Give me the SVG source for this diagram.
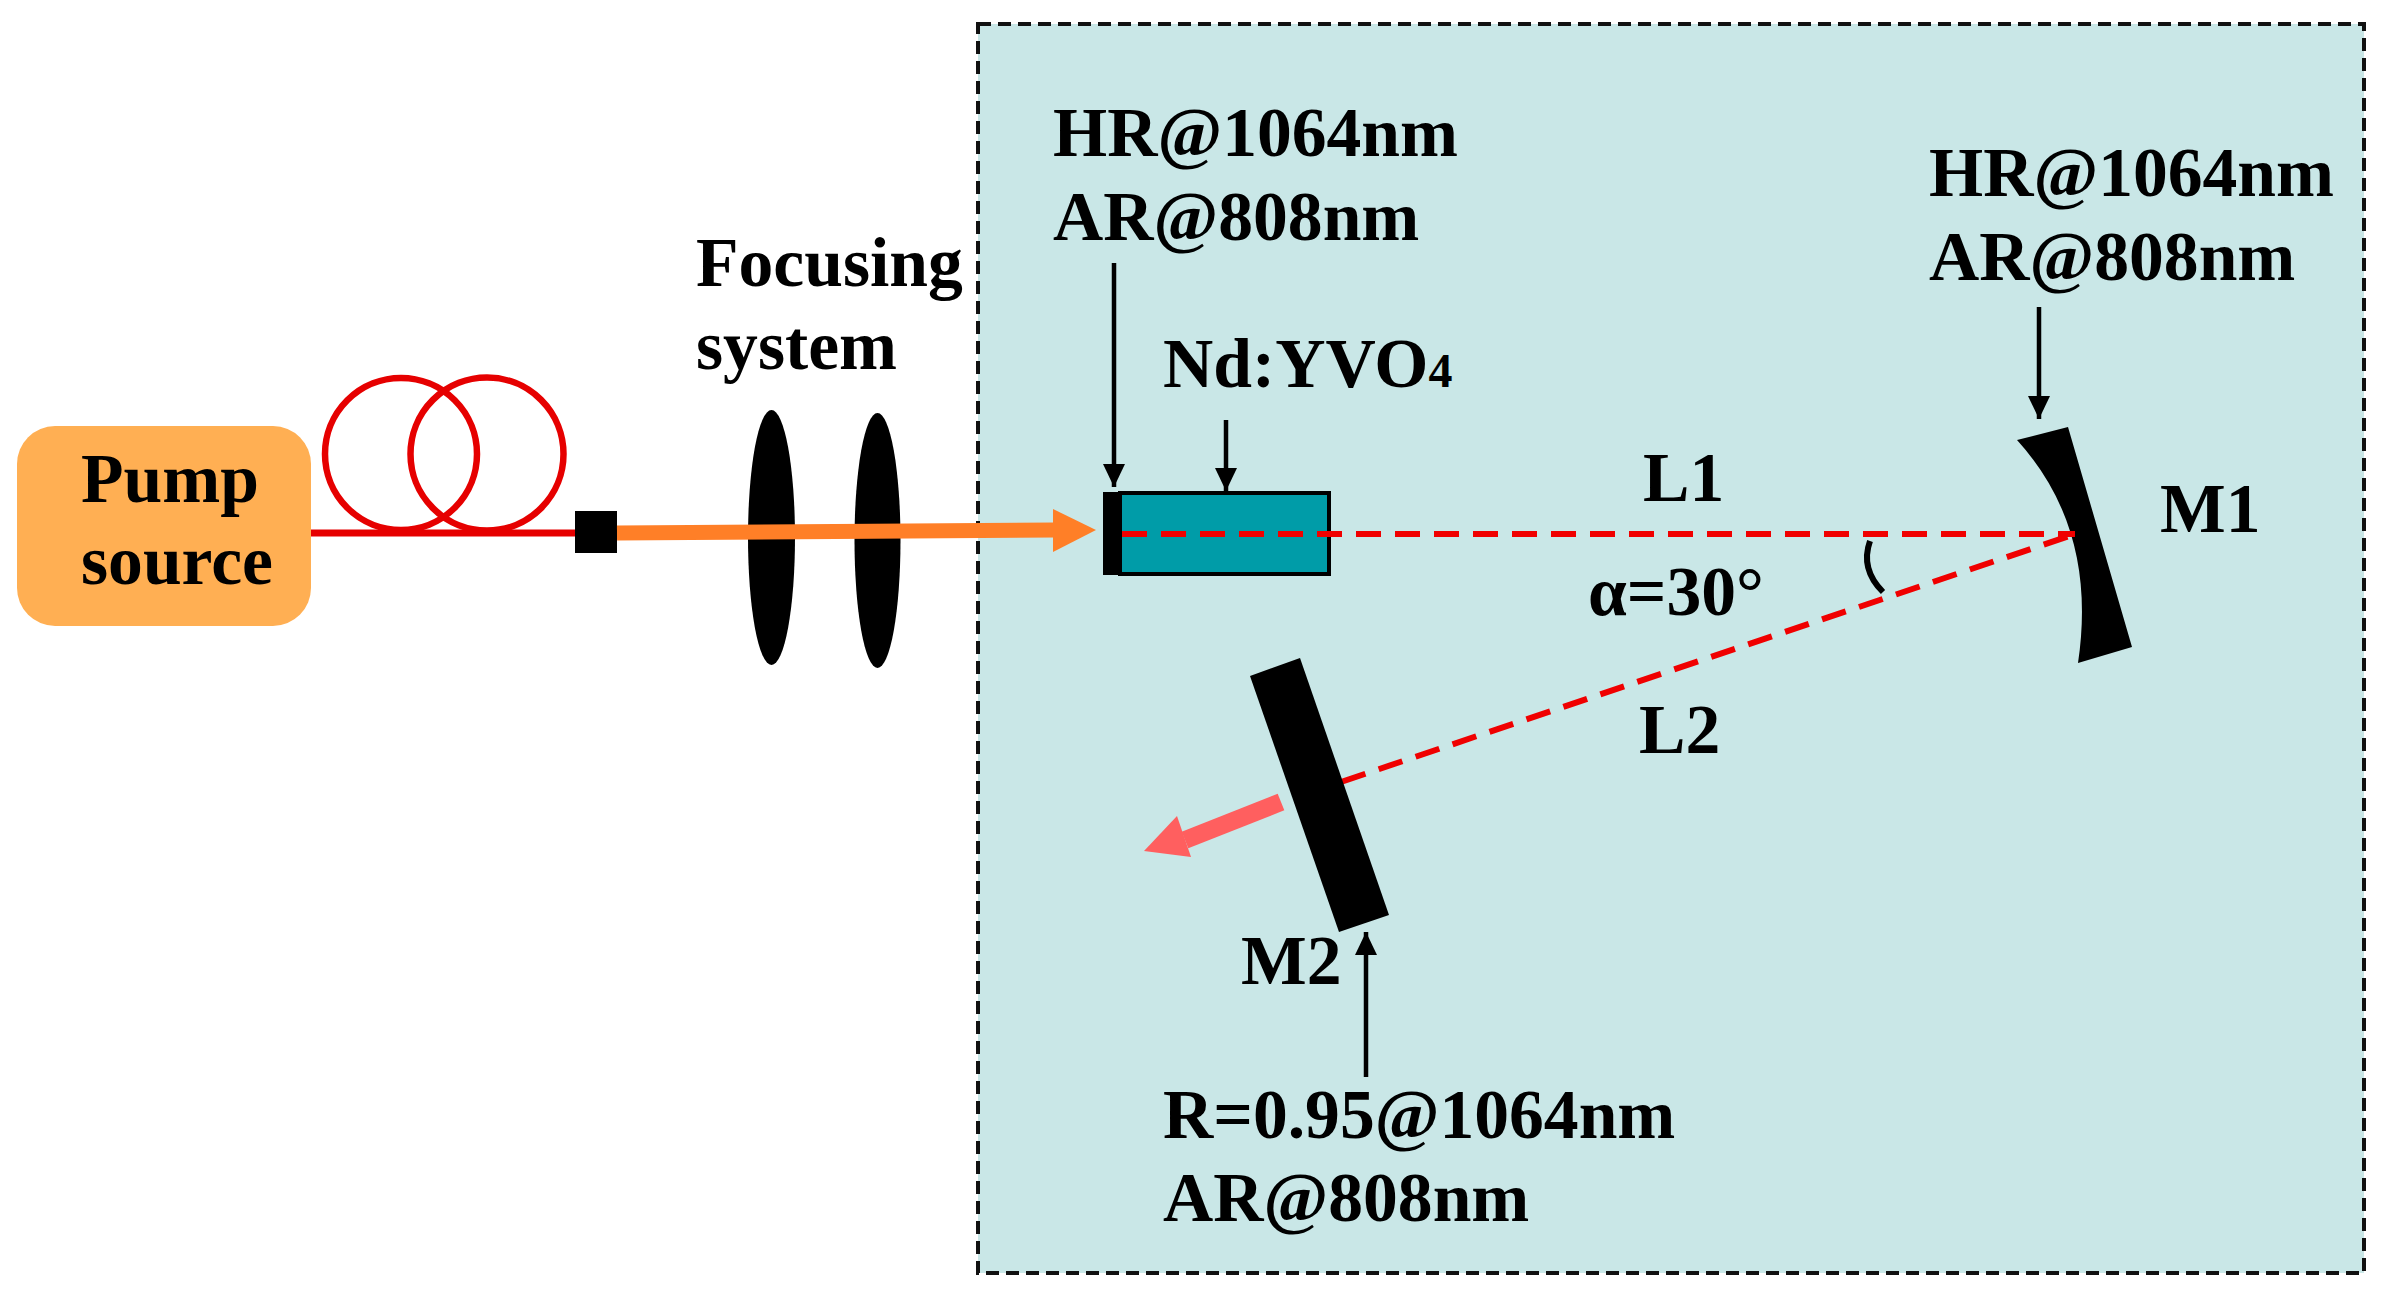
<svg xmlns="http://www.w3.org/2000/svg" width="2387" height="1303" viewBox="0 0 2387 1303">
<style>
text{font-family:"Liberation Serif","Times New Roman",serif;font-weight:bold;font-size:69.600px;fill:#000}
.blk{fill:#000}
.thin{stroke:#000;stroke-width:4.500;fill:none}
.beam{stroke:#f00000;stroke-width:6;stroke-dasharray:25 14;fill:none}
.fib{stroke:#e60000;fill:none}
</style>
<defs>
<marker id="ah" markerUnits="userSpaceOnUse" markerWidth="24" markerHeight="24" refX="23" refY="11" orient="auto"><path d="M0 0L23 11L0 22Z" fill="#000"/></marker>
</defs>
<rect width="2387" height="1303" fill="#fff"/>
<g id="cavity-region"><rect x="978" y="24" width="1386" height="1249" fill="#c9e7e7" stroke="#111" stroke-width="4" stroke-dasharray="13 7"/></g>
<g id="pump-source"><rect x="17" y="426" width="294" height="200" rx="38" fill="#ffaf53"/><text x="81" y="502">Pump</text><text x="81" y="584">source</text></g>
<g id="fiber-coil" class="fib"><circle cx="401" cy="454" r="76" stroke-width="6.500"/><circle cx="487" cy="454" r="76.500" stroke-width="6.500"/></g>
<g id="focusing-system"><ellipse class="blk" cx="771.500" cy="537.500" rx="23.500" ry="127.500"/><ellipse class="blk" cx="877.500" cy="540.500" rx="23" ry="127.500"/><text x="696" y="286">Focusing</text><text x="696" y="369">system</text></g>
<g id="crystal"><rect x="1120" y="493" width="209" height="81" fill="#009ca8" stroke="#000" stroke-width="4"/><rect class="blk" x="1103" y="492" width="19" height="83"/><text x="1163" y="387">Nd:YVO<tspan font-size="48">4</tspan></text><text x="1053" y="156">HR@1064nm</text><text x="1053" y="240">AR@808nm</text></g>
<g id="m1"><path class="blk" d="M2017 440L2068 427L2132 647L2078 663Q2098 529 2017 440Z"/><text x="2160" y="532">M1</text><text x="1929" y="196">HR@1064nm</text><text x="1929" y="280">AR@808nm</text></g>
<g id="labels"><text x="1643" y="501">L1</text><text x="1639" y="753">L2</text><text x="1588" y="615">α=30°</text></g>
<g id="connectors">
<path d="M311 533H576" stroke="#e60000" stroke-width="7" fill="none"/>
<rect class="blk" x="575" y="511" width="42" height="42"/>
<path d="M617 533L1054 530" stroke="#ff7f27" stroke-width="15" fill="none"/>
<path d="M1053 509L1096 530L1053 552Z" fill="#ff7f27"/>
<path class="beam" d="M1122 534H2075"/>
<path class="beam" d="M2075 534L1335 784" stroke-dashoffset="-8"/>
<path d="M1870 541Q1860 569 1883 592" class="thin" style="stroke-width:6"/>
<path class="thin" d="M1114 263V487" marker-end="url(#ah)"/>
<path class="thin" d="M1226 420V491" marker-end="url(#ah)"/>
<path class="thin" d="M2039 307V419" marker-end="url(#ah)"/>
<path class="thin" d="M1366 1077V932" marker-end="url(#ah)"/>
<path d="M1281 802L1185 840" stroke="#ff5f5f" stroke-width="18" fill="none"/>
<path d="M1144 851L1177 816L1191 857Z" fill="#ff5f5f"/>
</g>
<g id="m2"><path class="blk" d="M1250 676L1300 658L1389 915L1339 932Z"/><text x="1241" y="984">M2</text><text x="1163" y="1138">R=0.95@1064nm</text><text x="1163" y="1221">AR@808nm</text></g>
</svg>
